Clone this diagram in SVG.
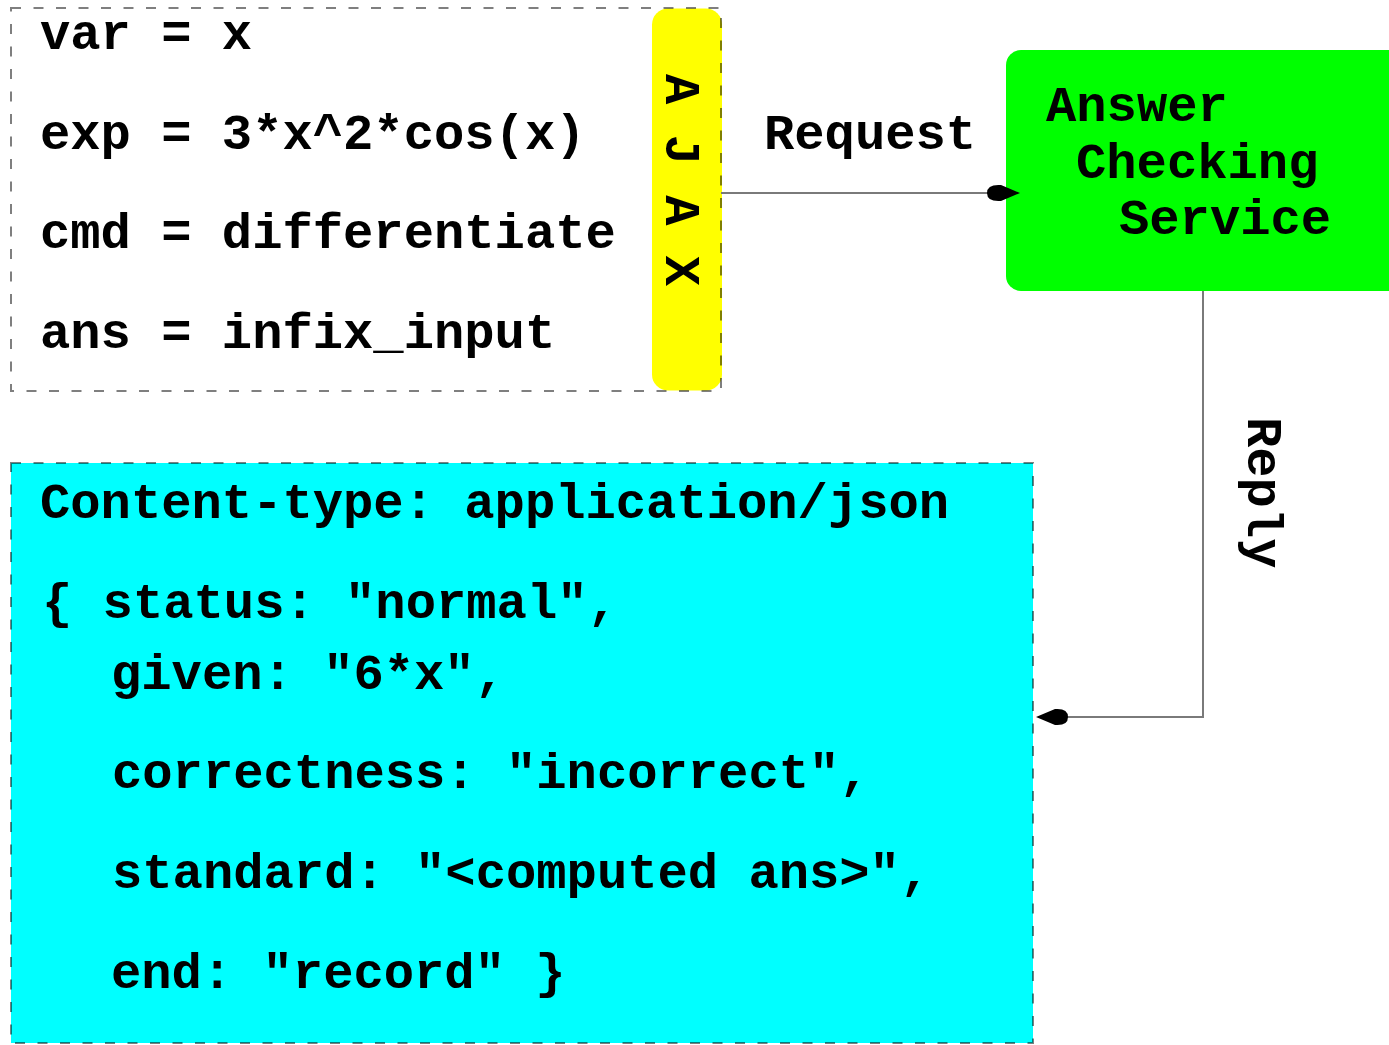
<svg xmlns="http://www.w3.org/2000/svg" width="1389" height="1045" viewBox="0 0 1389 1045">
<style>
text { font-family: "Courier New", "Liberation Mono", monospace; font-weight: bold; font-size: 50.5px; fill: #000; white-space: pre; }
.dash { stroke: #000; stroke-opacity: 0.5; stroke-width: 2; stroke-dasharray: 10 12.5; }
.conn { fill: none; stroke: #7a7a7a; stroke-width: 2; }
.head { fill: #000; }
</style>
<rect width="1389" height="1045" fill="#fff"/>
<g id="request-box">
  <rect x="652" y="8.5" width="70" height="382" rx="16" fill="#ffff00"/>
  <rect class="dash" x="11" y="8" width="710" height="383" fill="none"/>
  <text x="40" y="49">var = x</text>
  <text x="40" y="149">exp = 3*x^2*cos(x)</text>
  <text x="40" y="248">cmd = differentiate</text>
  <text x="40" y="348">ans = infix_input</text>
</g>
<g id="ajax">
  <text transform="translate(666,74) rotate(90)">A J A X</text>
</g>
<g id="service">
  <rect x="1006" y="50" width="420" height="241" rx="15" fill="#00ff00"/>
  <text x="1046" y="121">Answer</text>
  <text x="1076" y="178">Checking</text>
  <text x="1119" y="234">Service</text>
</g>
<g id="reply-box">
  <rect class="dash" x="11" y="463" width="1022" height="580" fill="#00ffff"/>
  <text x="40" y="518">Content-type: application/json</text>
  <text x="42" y="618">{ status: "normal",</text>
  <text x="111" y="689">given: "6*x",</text>
  <text x="112" y="788">correctness: "incorrect",</text>
  <text x="112" y="888">standard: "&lt;computed ans&gt;",</text>
  <text x="111" y="988">end: "record" }</text>
</g>
<g id="connectors">
  <path class="conn" d="M721,193 H990"/>
  <path class="head" d="M1020,193 L1001,185 Q987,184 987,193 Q987,202 1001,201 Z"/>
  <text x="764" y="149">Request</text>
  <path class="conn" d="M1203,291 V717 H1065"/>
  <path class="head" d="M1036,717 L1055,709 Q1068,708 1068,717 Q1068,726 1055,725 Z"/>
  <text transform="translate(1248,417) rotate(90)">Reply</text>
</g>
</svg>
